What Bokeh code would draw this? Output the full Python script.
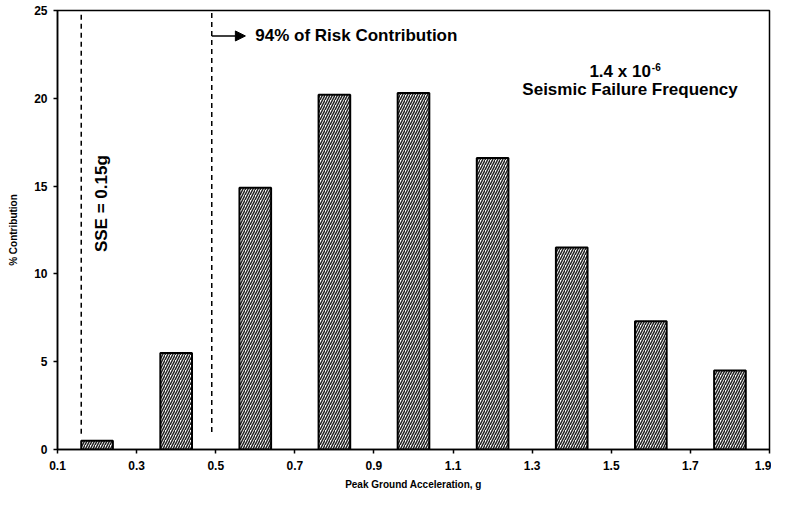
from bokeh.plotting import figure
from bokeh.models import Range1d, FixedTicker, Arrow, NormalHead, Label
from bokeh.embed import file_html
from bokeh.resources import INLINE

# Data
pga = [0.2, 0.4, 0.6, 0.8, 1.0, 1.2, 1.4, 1.6, 1.8]
contribution = [0.5, 5.5, 14.9, 20.2, 20.3, 16.6, 11.5, 7.3, 4.5]
x_ticks = [0.1, 0.3, 0.5, 0.7, 0.9, 1.1, 1.3, 1.5, 1.7, 1.9]
y_ticks = [0, 5, 10, 15, 20, 25]
dash_x = [0.16, 0.49]
dash_y0 = [0.9, 1.0]
dash_y1 = [24.9, 24.9]

FONT = "Liberation Sans"

p = figure(width=771, height=492, output_backend="svg", toolbar_location=None,
           x_range=Range1d(0.1, 1.9), y_range=Range1d(0, 25),
           min_border_left=57, min_border_right=2, min_border_top=10, min_border_bottom=40)
p.grid.visible = False
p.background_fill_color = "white"
p.border_fill_color = "white"
p.outline_line_color = "black"
p.outline_line_width = 1.5

p.vbar(x=pga, top=contribution, bottom=0, width=0.08,
       fill_color="white", line_color="black", line_width=2,
       hatch_pattern="/", hatch_color="#222222", hatch_scale=5, hatch_weight=1.5)

p.segment(x0=dash_x, y0=dash_y0, x1=dash_x, y1=dash_y1,
          line_color="black", line_width=1.5, line_dash="5 4")

p.add_layout(Arrow(end=NormalHead(size=10, fill_color="black", line_color="black"),
                   x_start=0.49, y_start=23.55, x_end=0.575, y_end=23.55,
                   line_color="black", line_width=1.5))

def lab(**kw):
    kw.setdefault("text_font", FONT)
    kw.setdefault("text_font_style", "bold")
    kw.setdefault("text_color", "black")
    p.add_layout(Label(**kw))

lab(x=0.6, y=23.55, text="94% of Risk Contribution", text_font_size="17px", text_baseline="middle")
lab(x=0.21, y=14.0, text="SSE = 0.15g", angle=90, angle_units="deg",
    text_font_size="17px", text_align="center", text_baseline="middle")
lab(x=1.6, y=21.5, text="1.4 x 10", text_font_size="17px",
    text_align="right", text_baseline="middle")
lab(x=1.6025, y=21.78, text="-6", text_font_size="10px",
    text_align="left", text_baseline="middle")
lab(x=1.5475, y=20.5, text="Seismic Failure Frequency", text_font_size="17px",
    text_align="center", text_baseline="middle")

for ax in (p.xaxis, p.yaxis):
    ax.axis_line_color = "black"
    ax.axis_line_width = 1.5
    ax.major_tick_line_color = "black"
    ax.major_tick_line_width = 1.5
    ax.major_tick_out = 4
    ax.major_tick_in = 0
    ax.minor_tick_line_color = None
    ax.major_label_text_font = FONT
    ax.major_label_text_font_style = "bold"
    ax.major_label_text_font_size = "12px"
    ax.major_label_text_color = "black"
    ax.axis_label_text_font = FONT
    ax.axis_label_text_font_style = "bold"
    ax.axis_label_text_font_size = "10px"
    ax.axis_label_text_color = "black"

p.xaxis.ticker = FixedTicker(ticks=x_ticks)
p.yaxis.ticker = FixedTicker(ticks=y_ticks)
p.xaxis.axis_label = "Peak Ground Acceleration, g"
p.yaxis.axis_label = "% Contribution"
p.xaxis.major_label_standoff = 7
p.xaxis.axis_label_standoff = 6
p.yaxis.major_label_standoff = 6
p.yaxis.axis_label_standoff = 12

open("out.html", "w").write(file_html(p, INLINE))
